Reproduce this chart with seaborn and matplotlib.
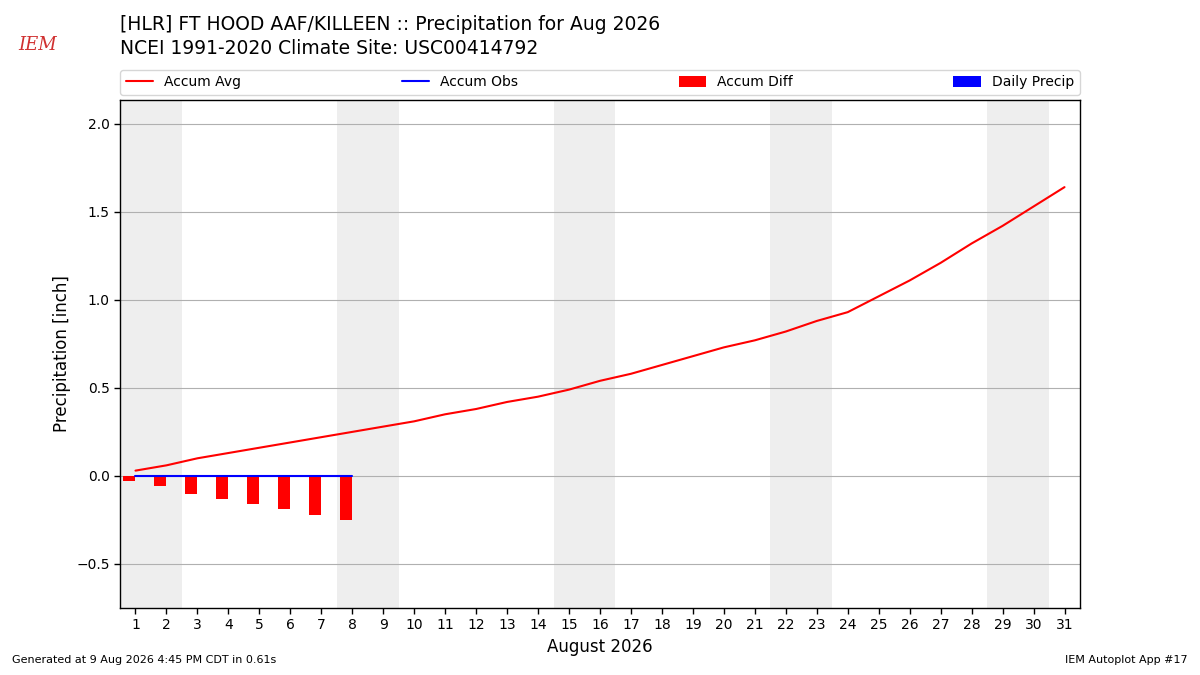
import matplotlib
matplotlib.use("Agg")
import matplotlib.pyplot as plt
import numpy as np
import pandas as pd
import seaborn as sns

days = list(range(1, 32))
accum_avg = [0.03, 0.06, 0.10, 0.13, 0.16, 0.19, 0.22, 0.25, 0.28, 0.31,
             0.35, 0.38, 0.42, 0.45, 0.49, 0.54, 0.58, 0.63, 0.68, 0.73,
             0.77, 0.82, 0.88, 0.93, 1.02, 1.11, 1.21, 1.32, 1.42, 1.53, 1.64]
obs_days = [1, 2, 3, 4, 5, 6, 7, 8]
daily_precip = [0.0, 0.0, 0.0, 0.0, 0.0, 0.0, 0.0, 0.0]
accum_obs = [0.0, 0.0, 0.0, 0.0, 0.0, 0.0, 0.0, 0.0]
accum_diff = [-0.03, -0.06, -0.10, -0.13, -0.16, -0.19, -0.22, -0.25]
weekends = [(1, 2), (8, 9), (15, 16), (22, 23), (29, 30)]

avg_df = pd.DataFrame({"day": days, "precip": accum_avg})
obs_df = pd.DataFrame({"day": obs_days, "precip": accum_obs,
                       "diff": accum_diff, "daily": daily_precip})

sns.set_style("white")
plt.rcParams["font.family"] = ["DejaVu Sans"]
plt.rcParams.update({
    "text.color": "black",
    "axes.labelcolor": "black",
    "xtick.color": "black",
    "ytick.color": "black",
    "patch.edgecolor": "none",
})

fig = plt.figure(figsize=(12, 6.75), dpi=100)
ax = fig.add_axes([0.1, 0.0993, 0.8, 0.7526])

for start, end in weekends:
    ax.axvspan(start - 0.5, end + 0.5, color="#eeeeee", zorder=0, lw=0)

ax.bar(obs_df["day"], obs_df["daily"], width=0.4, align="edge",
       color="b", edgecolor="none", label="Daily Precip", zorder=2)
ax.bar(obs_df["day"], obs_df["diff"], width=-0.4, align="edge",
       color="r", edgecolor="none", label="Accum Diff", zorder=2)
sns.lineplot(data=avg_df, x="day", y="precip", color="r", lw=1.5,
             label="Accum Avg", ax=ax, zorder=3)
sns.lineplot(data=obs_df, x="day", y="precip", color="b", lw=1.5,
             label="Accum Obs", ax=ax, zorder=3)

ax.set_xlim(0.5, 31.5)
ax.set_ylim(-0.75, 2.135)
ax.set_xticks(days)
ax.set_yticks([-0.5, 0.0, 0.5, 1.0, 1.5, 2.0])
ax.yaxis.grid(True, color="#b0b0b0", lw=0.8)
for spine in ax.spines.values():
    spine.set_color("black")
    spine.set_linewidth(1.0)
ax.tick_params(axis="both", which="both", direction="out", length=4,
               width=1, color="black", labelcolor="black", labelsize=10,
               left=True, bottom=True)
ax.set_xlabel("August 2026", fontsize=12)
ax.set_ylabel("Precipitation [inch]", fontsize=12)

handles, labels = ax.get_legend_handles_labels()
order = ["Accum Avg", "Accum Obs", "Accum Diff", "Daily Precip"]
hmap = dict(zip(labels, handles))
ax.legend([hmap[k] for k in order], order, loc="lower left",
          bbox_to_anchor=(0, 1.01, 1, 0.102), ncol=4, mode="expand",
          borderaxespad=0.0, fontsize=10, frameon=True, handleheight=0.9)

fig.text(0.1, 0.963, "[HLR] FT HOOD AAF/KILLEEN :: Precipitation for Aug 2026",
         fontsize=13.5, va="center", ha="left")
fig.text(0.1, 0.928, "NCEI 1991-2020 Climate Site: USC00414792",
         fontsize=13.5, va="center", ha="left")
fig.text(0.031, 0.933, "IEM", fontsize=13, color="#d03030", style="italic",
         family="DejaVu Serif", ha="center", va="center")
fig.text(0.01, 0.015, "Generated at 9 Aug 2026 4:45 PM CDT in 0.61s",
         fontsize=8, ha="left", va="bottom")
fig.text(0.99, 0.015, "IEM Autoplot App #17", fontsize=8, ha="right",
         va="bottom")

fig.savefig("out.png", dpi=100)
